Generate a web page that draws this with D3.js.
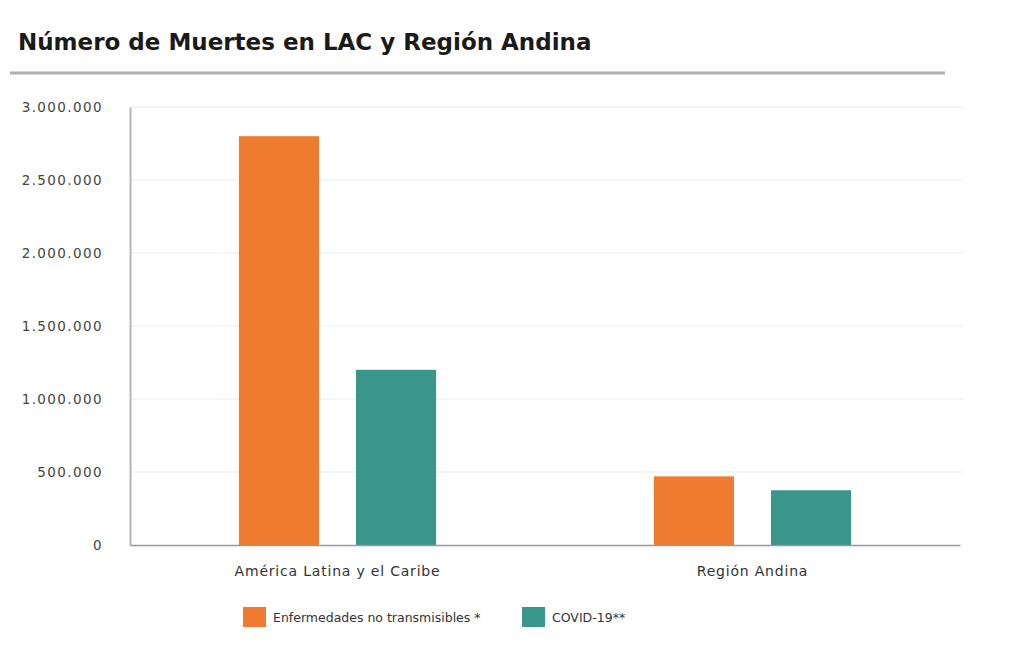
<!DOCTYPE html>
<html>
<head>
<meta charset="utf-8">
<script src="https://cdn.jsdelivr.net/npm/d3@7"></script>
<style>
  body { margin: 0; background: #fff; }
  text { font-family: "DejaVu Sans", "Open Sans", sans-serif; }
</style>
</head>
<body>
<div id="chart"></div>
<script>
var categories = ["América Latina y el Caribe", "Región Andina"];
var seriesNames = ["Enfermedades no transmisibles *", "COVID-19**"];
var ncdValues = [2800000, 470000];
var covidValues = [1200000, 375000];
var yTicks = [0, 500000, 1000000, 1500000, 2000000, 2500000, 3000000];
var colors = ["#ee7b30", "#3a968a"];

(function() {
    var width = 1020;
    var height = 646;
    var margin = {top: 107, left: 130, right: 60, bottom: 101};

    var svg = d3.select("#chart")
        .append("svg")
        .attr("width", width)
        .attr("height", height);

    // title + rule under it
    svg.append("text")
        .attr("x", 18)
        .attr("y", 50)
        .attr("font-size", 23)
        .attr("font-weight", "bold")
        .attr("fill", "#1a1a1a")
        .text("Número de Muertes en LAC y Región Andina");

    svg.append("line")
        .attr("x1", 10).attr("x2", 945)
        .attr("y1", 73).attr("y2", 73)
        .attr("stroke", "#b0b0b0")
        .attr("stroke-width", 3);

    var rows = categories.map(function(c, i) {
        return {cat: c, values: [ncdValues[i], covidValues[i]]};
    });

    var x0 = d3.scaleBand()
        .domain(categories)
        .range([margin.left, width - margin.right])
        .padding(0);

    var x1 = d3.scaleBand()
        .domain([0, 1])
        .range([0, x0.bandwidth()])
        .paddingInner(0.316)
        .paddingOuter(0.93);

    var y = d3.scaleLinear()
        .domain([0, 3000000])
        .range([height - margin.bottom, margin.top]);

    var fmt = function(d) {
        return d3.format(",")(d).replace(/,/g, ".");
    };

    // gridlines
    svg.append("g")
        .selectAll("line")
        .data(yTicks.slice(1))
        .enter().append("line")
        .attr("x1", margin.left)
        .attr("x2", width - 57)
        .attr("y1", d => y(d))
        .attr("y2", d => y(d))
        .attr("stroke", "#ececec")
        .attr("stroke-width", 1);

    var yAxis = svg.append("g")
        .attr("transform", "translate(" + margin.left + ",0)")
        .call(d3.axisLeft(y).tickValues(yTicks).tickFormat(fmt).tickSize(0).tickPadding(27));
    yAxis.select(".domain").attr("stroke", "#b5b5b5").attr("stroke-width", 2);
    yAxis.selectAll("text")
        .attr("font-size", 13.5)
        .attr("letter-spacing", 1.4)
        .attr("fill", "#444");

    // bars
    var groups = svg.append("g")
        .selectAll("g")
        .data(rows)
        .enter().append("g")
        .attr("transform", d => "translate(" + x0(d.cat) + ",0)");

    groups.selectAll("rect")
        .data(d => d.values.map((v, i) => ({i: i, v: v})))
        .enter().append("rect")
        .attr("x", d => x1(d.i))
        .attr("width", x1.bandwidth())
        .attr("y", d => y(d.v))
        .attr("height", d => y(0) - y(d.v))
        .attr("fill", d => colors[d.i]);

    var xAxis = svg.append("g")
        .attr("transform", "translate(0," + y(0) + ")")
        .call(d3.axisBottom(x0).tickSize(0).tickPadding(21));
    xAxis.select(".domain").attr("stroke", "#999").attr("stroke-width", 1.5);
    xAxis.selectAll("text")
        .attr("font-size", 14)
        .attr("letter-spacing", 0.8)
        .attr("fill", "#333");

    // legend
    var legendX = [243, 522];
    var legend = svg.append("g")
        .selectAll("g")
        .data(seriesNames)
        .enter().append("g")
        .attr("transform", (d, i) => "translate(" + legendX[i] + ",607)");

    legend.append("rect")
        .attr("width", 23)
        .attr("height", 20)
        .attr("fill", (d, i) => colors[i]);

    legend.append("text")
        .attr("x", 30)
        .attr("y", 15)
        .attr("font-size", 12.5)
        .attr("fill", "#333")
        .text(d => d);
})();
</script>
</body>
</html>
